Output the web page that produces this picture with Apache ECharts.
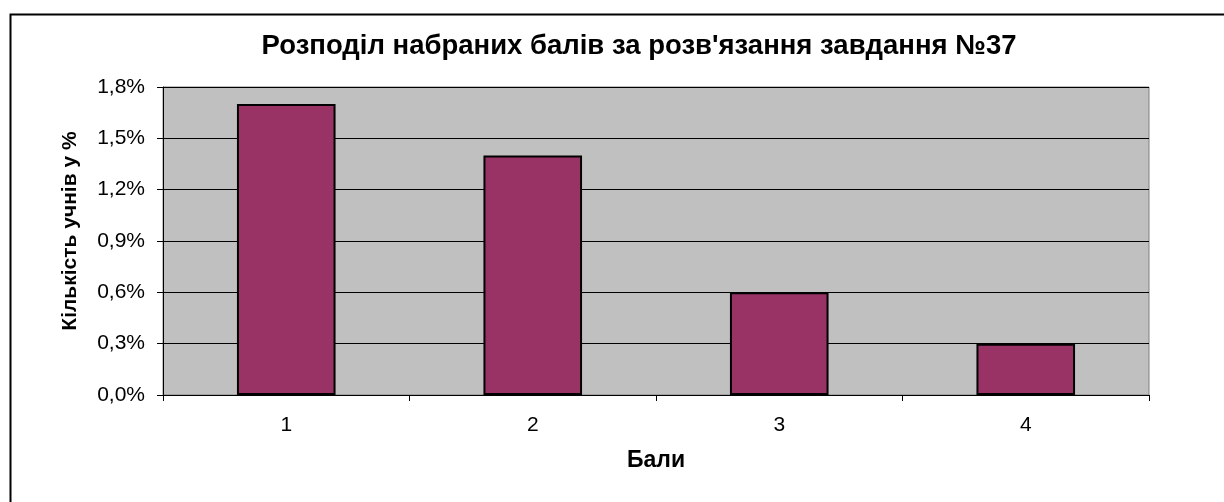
<!DOCTYPE html>
<html><head><meta charset="utf-8">
<script src="https://cdn.jsdelivr.net/npm/echarts@6/dist/echarts.min.js"></script>
<style>html,body{margin:0;padding:0;background:#fff}#c{width:1224px;height:502px}</style>
</head><body><div id="c"></div>
<script>
const categories = ['1', '2', '3', '4'];
const values = [1.7, 1.4, 0.6, 0.3];
const yTicks = [0, 0.3, 0.6, 0.9, 1.2, 1.5, 1.8];
const titleText = "Розподіл набраних балів за розв'язання завдання №37";
const xName = 'Бали';
const yName = 'Кількість учнів у %';

const chart = echarts.init(document.getElementById('c'), null, {renderer: 'canvas'});
const font = 'Arial, "Liberation Sans", sans-serif';
chart.setOption({
  animation: false,
  backgroundColor: '#fff',
  graphic: [{
    type: 'rect', left: 8, top: 12, z: -1,
    shape: {width: 1240, height: 520},
    style: {fill: 'none', stroke: '#000', lineWidth: 2}
  }],
  title: {
    text: titleText, left: 634, textAlign: 'center', top: 27,
    textStyle: {fontFamily: font, fontSize: 27.5, fontWeight: 'bold', color: '#000'}
  },
  grid: {
    left: 163, right: 75, top: 87, bottom: 107,
    show: true, backgroundColor: '#c0c0c0', borderColor: '#808080', borderWidth: 1
  },
  xAxis: {
    type: 'category', data: categories,
    name: xName, nameLocation: 'middle', nameGap: 54,
    nameTextStyle: {fontFamily: font, fontSize: 23, fontWeight: 'bold', color: '#000'},
    axisLine: {lineStyle: {color: '#000', width: 1}},
    axisTick: {show: true, length: 6, lineStyle: {color: '#000'}, alignWithLabel: false},
    axisLabel: {fontFamily: font, fontSize: 21, color: '#000', margin: 20}
  },
  yAxis: {
    type: 'value', min: 0, max: 1.8, interval: 0.3,
    name: yName, nameLocation: 'middle', nameGap: 82, nameRotate: 90,
    nameTextStyle: {fontFamily: font, fontSize: 21, fontWeight: 'bold', color: '#000', padding: [0, 0, 0, 20]},
    axisLine: {show: true, lineStyle: {color: '#000', width: 1}},
    axisTick: {show: true, length: 6, lineStyle: {color: '#000'}},
    splitLine: {show: true, lineStyle: {color: '#000', width: 1}},
    axisLabel: {
      fontFamily: font, fontSize: 21, color: '#000', margin: 18,
      formatter: v => {
        const t = yTicks.find(x => Math.abs(x - v) < 1e-9);
        return (t !== undefined ? t : v).toFixed(1).replace('.', ',') + '%';
      }
    }
  },
  series: [{
    type: 'bar', data: values, barCategoryGap: '60%',
    itemStyle: {color: '#993366', borderColor: '#000', borderWidth: 2}
  }]
});
</script></body></html>
